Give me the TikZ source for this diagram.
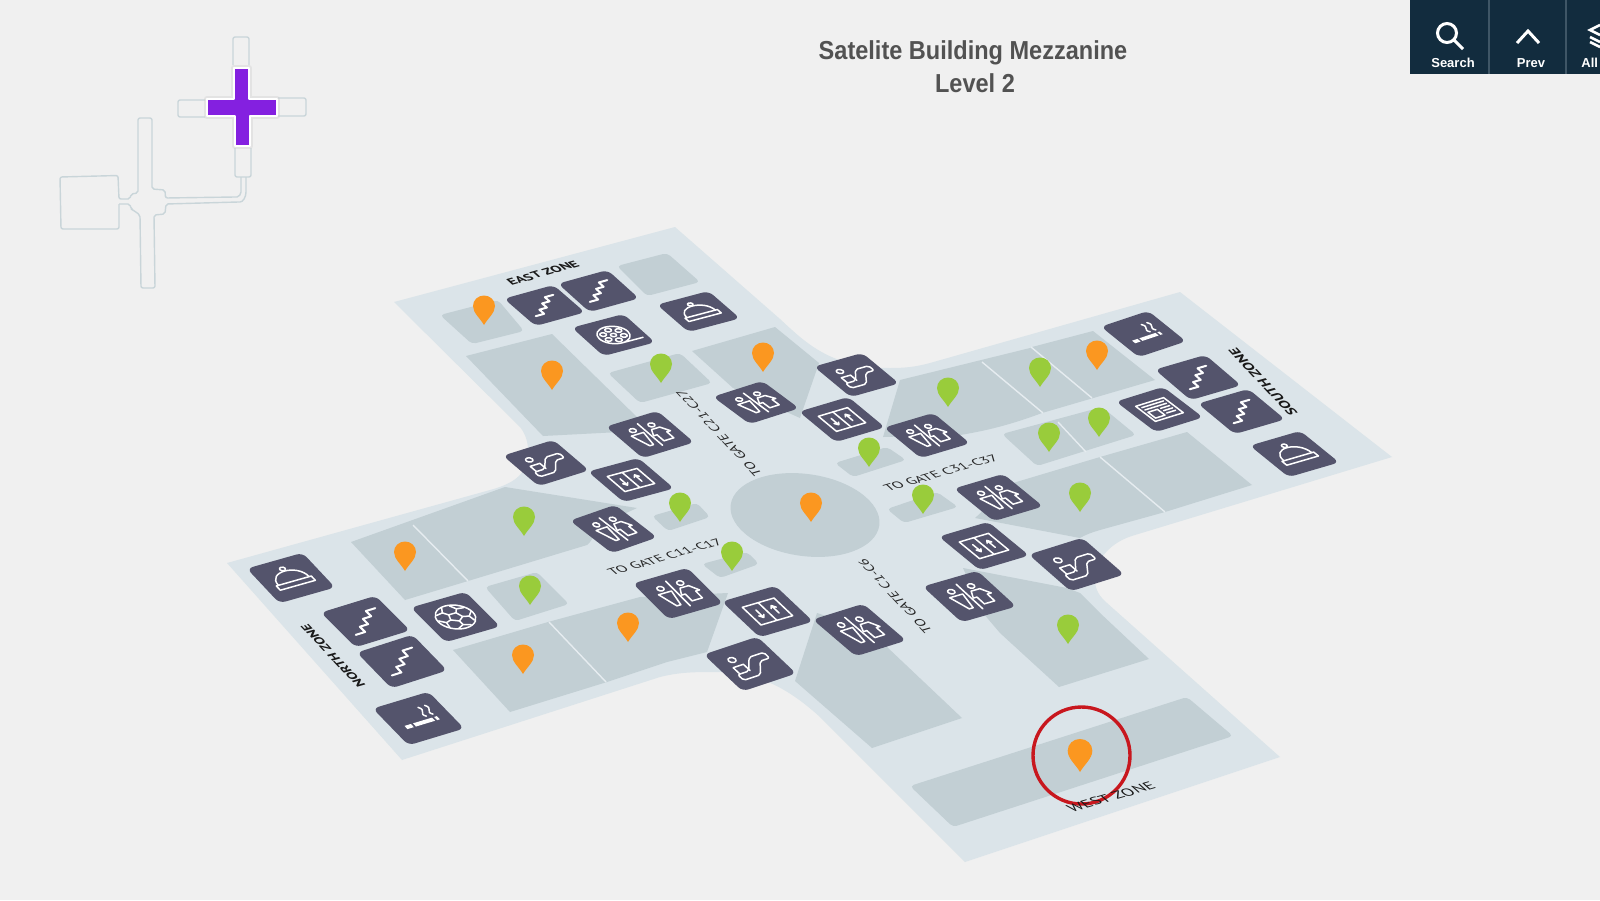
\documentclass[tikz,border=0pt]{standalone}
\usepackage{fontspec}
\setmainfont{PT Sans}
\newfontfamily\barfont{Liberation Sans}
\definecolor{pagebg}{HTML}{F0F0F0}
\definecolor{floorbg}{HTML}{DBE4E9}
\definecolor{roombg}{HTML}{C2CFD4}
\definecolor{tilebg}{HTML}{54546C}
\definecolor{pinorange}{HTML}{FB9720}
\definecolor{pingreen}{HTML}{99CC3B}
\definecolor{barbg}{HTML}{122C3E}
\definecolor{barline}{HTML}{3F5666}
\definecolor{mapline}{HTML}{C9D5D9}
\definecolor{mappurple}{HTML}{8420E0}
\definecolor{ringred}{HTML}{C8171E}
\tikzset{
    room/.style={fill=roombg},
    softroom/.style={fill=roombg,rounded corners=2pt},
    roomgap/.style={draw=floorbg!70!white,line width=0.7pt},
    tile/.style={fill=tilebg,rounded corners=3pt},
    ico/.style={draw=white,line width=0.75pt,line join=round,line cap=round},
    mapwall/.style={draw=mapline,line width=0.7pt,line join=round,rounded corners=1pt},
    alongu/.style={transform shape,cm={0.96,0.276,-0.6,0.54,(0,0)}},
    alongv/.style={transform shape,cm={-0.685,0.73,-0.78,-0.225,(0,0)}},
    floortext/.style={text=black!85,inner sep=0pt,font=\fontsize{7.6}{8}\selectfont},
    zonetext/.style={text=black!90,inner sep=0pt,font=\fontsize{7.4}{8}\bfseries\selectfont},
    bartext/.style={text=white,inner sep=0pt,font=\barfont\fontsize{6.5}{8}\bfseries\selectfont},
    titletext/.style={text=black!68,xscale=0.905,font=\barfont\fontsize{13}{16}\bfseries\selectfont},
}
%% a rectangle that follows the skewed axes of a tile
\newcommand{\skewrect}[4]{(#1,#2) -- (#3,#2) -- (#3,#4) -- (#1,#4) -- cycle}
%% icons, drawn on a tile that runs from -1 to 1 both ways
\newcommand{\drawStairs}{%
    \draw[ico,line width=1pt] (-0.68,0.48) -- ++(0.36,0) -- ++(0,-0.32) -- ++(0.32,0) -- ++(0,-0.32) -- ++(0.32,0) -- ++(0,-0.32) -- ++(0.36,0);}
\newcommand{\drawWc}{%
    \draw[ico] (0,-0.72) -- (0,0.72);
    \draw[ico] (-0.38,-0.45) circle (0.12) (0.38,-0.45) circle (0.12);
    \draw[ico] (-0.62,-0.2) -- (-0.12,-0.2) -- (-0.25,0.55) -- (-0.4,0.55) -- cycle;
    \draw[ico] (0.22,-0.22) -- (0.55,-0.22) -- (0.75,0.12) -- (0.6,0.12) -- (0.6,0.52) -- (0.2,0.52) -- (0.2,0.12) -- (0.06,0.12) -- cycle;}
\newcommand{\drawLift}{%
    \draw[ico] \skewrect{-0.62}{-0.52}{0.62}{0.52};
    \draw[ico] (0,-0.52) -- (0,0.52);
    \draw[ico] (-0.3,-0.22) -- (-0.3,0.22) (-0.4,0.08) -- (-0.3,0.22) -- (-0.2,0.08);
    \draw[ico] (0.3,0.22) -- (0.3,-0.22) (0.2,-0.08) -- (0.3,-0.22) -- (0.4,-0.08);}
\newcommand{\drawEscal}{%
    \draw[ico] (-0.4,-0.42) circle (0.13);
    \draw[ico] (-0.6,0.28) -- (-0.6,-0.08) -- (-0.2,-0.08) -- (-0.2,0.28);
    \draw[ico,rounded corners=1pt] (-0.68,0.28) -- (-0.25,0.28) -- (0.18,-0.3) -- (0.75,-0.3) -- (0.75,0.02) -- (0.38,0.02) -- (-0.02,0.6) -- (-0.68,0.6) -- cycle;}
\newcommand{\drawDome}{%
    \draw[ico] (0,-0.55) circle (0.1);
    \draw[ico] (-0.58,0.18) .. controls (-0.58,-0.62) and (0.58,-0.62) .. (0.58,0.18);
    \draw[ico] \skewrect{-0.66}{0.18}{0.66}{0.44};}
\newcommand{\drawFilm}{%
    \draw[ico] (0,0) circle (0.58) (0,0.58) -- (0.85,0.58);
    \draw[ico] (0,0) circle (0.11);
    \foreach \ang in {30,90,150,210,270,330}
        \draw[ico] (\ang:0.36) circle (0.12);}
\newcommand{\drawBall}{%
    \draw[ico] (0,0) circle (0.66);
    \draw[ico] (90:0.24) -- (162:0.24) -- (234:0.24) -- (306:0.24) -- (18:0.24) -- cycle;
    \foreach \ang in {90,162,234,306,18}
        \draw[ico] (\ang:0.24) -- (\ang:0.46) (\ang+22:0.62) -- (\ang:0.46) -- (\ang-22:0.62);}
\newcommand{\drawSmoke}{%
    \fill[white] \skewrect{-0.62}{0.14}{-0.38}{0.32};
    \fill[white] \skewrect{-0.3}{0.14}{0.42}{0.32};
    \fill[white] \skewrect{0.5}{0.14}{0.6}{0.32};
    \draw[ico] (0.3,0) .. controls (0.1,-0.2) and (0.5,-0.25) .. (0.3,-0.5);
    \draw[ico] (0.55,0) .. controls (0.35,-0.2) and (0.75,-0.25) .. (0.55,-0.5);}
\newcommand{\drawNews}{%
    \draw[ico] \skewrect{-0.62}{-0.52}{0.62}{0.52};
    \draw[ico] (-0.48,-0.36) -- (0.48,-0.36) (-0.48,-0.2) -- (0.48,-0.2);
    \draw[ico] \skewrect{-0.48}{-0.04}{-0.06}{0.36};
    \draw[ico] (0.08,-0.04) -- (0.48,-0.04) (0.08,0.12) -- (0.48,0.12) (0.08,0.28) -- (0.48,0.28);}
\newcommand{\pinpath}{(0,0) .. controls (-4,-7) and (-11,-12) .. (-11,-19) .. controls (-11,-25) and (-6,-29.5) .. (0,-29.5) .. controls (6,-29.5) and (11,-25) .. (11,-19) .. controls (11,-12) and (4,-7) .. (0,0) -- cycle}
\begin{document}
\begin{tikzpicture}[x=0.5pt,y=-0.5pt]
    \clip (0,0) rectangle (1600,900);
    \fill[pagebg] (0,0) rectangle (1600,900);
    %% floor
    \fill[floorbg] (394,302) -- (675,227) -- (780,319) .. controls (805,342) and (830,368) .. (890,368)
        .. controls (905,368) and (915,367) .. (930,363) -- (1180,292) -- (1392,457) -- (1135,535)
        .. controls (1110,542) and (1095,560) .. (1095,580) .. controls (1095,590) and (1100,597) .. (1107,603)
        -- (1280,757) -- (965,862) -- (820,717) .. controls (790,690) and (760,672) .. (717,672)
        .. controls (695,672) and (680,672) .. (660,677) -- (402,760) -- (227,563) -- (490,490)
        .. controls (520,482) and (528,470) .. (528,450) .. controls (528,440) and (524,432) .. (520,427) -- cycle;
    %% rooms of the east arm
    \fill[softroom] (440,315) -- (498,300) -- (524,331) -- (472,344) -- cycle;
    \fill[softroom] (617,266) -- (667,253) -- (700,282) -- (647,296) -- cycle;
    \fill[room] (466,356) -- (552,334) -- (640,420) -- (620,432) -- (543,436) -- cycle;
    \fill[softroom] (608,373) -- (680,353) -- (712,383) -- (640,403) -- cycle;
    \fill[room] (692,351) -- (775,327) -- (819,363) -- (800,418) -- (760,400) -- (733,388) -- cycle;
    %% rooms of the south arm
    \fill[room] (900,380) -- (1030,348) -- (1032,347) -- (1093,331) -- (1155,380) -- (1042,413)
        .. controls (1010,425) and (985,431) .. (960,435) -- (883,437) -- cycle;
    \draw[roomgap] (982,362) -- (1043,413) (1031,347) -- (1092,398);
    \fill[softroom] (1002,434) -- (1102,407) -- (1136,435) -- (1037,466) -- cycle;
    \draw[roomgap] (1058,422) -- (1086,452);
    \fill[room] (975,518) .. controls (990,505) and (1000,488) .. (1013,483) -- (1100,457) -- (1187,432)
        -- (1252,485) -- (1165,512) -- (1100,530) .. controls (1090,533) and (1085,535) .. (1080,538) -- cycle;
    \draw[roomgap] (1100,457) -- (1165,512);
    \fill[softroom] (835,463) -- (887,447) -- (906,460) -- (853,477) -- cycle;
    \fill[softroom] (887,509) -- (937,492) -- (958,507) -- (904,523) -- cycle;
    %% rooms of the north arm
    \fill[room] (351,542) -- (505,487) -- (637,508) -- (600,525) .. controls (595,535) and (590,543) .. (587,545)
        -- (468,581) -- (405,600) -- cycle;
    \draw[roomgap] (413,525) -- (468,581);
    \fill[softroom] (485,587) -- (537,572) -- (569,604) -- (515,621) -- cycle;
    \fill[room] (453,650) -- (548,622) -- (640,597) -- (728,593) -- (707,652) -- (667,662) -- (607,682) -- (510,712) -- cycle;
    \draw[roomgap] (549,622) -- (606,682);
    \fill[softroom] (702,564) -- (747,552) -- (759,564) -- (720,578) -- cycle;
    \fill[softroom] (652,516) -- (697,503) -- (710,517) -- (668,531) -- cycle;
    %% rooms of the west arm
    \fill[room] (817,613) -- (870,630) -- (887,647) -- (962,718) -- (872,748) -- (795,681) -- cycle;
    \fill[room] (963,568) -- (1067,588) -- (1080,593) -- (1100,613) -- (1149,659) -- (1059,687) -- (1000,633) -- (983,613) -- cycle;
    \fill[softroom] (910,786) -- (1187,697) -- (1233,736) -- (953,827) -- cycle;
    %% round hall
    \fill[room,rotate around={-8:(805,515)}] (805,515) ellipse (75 and 41);
    %% labels on the floor
    \foreach \nm/\px/\py/\txt in {gateA/665/557/TO GATE C11-C17,gateB/941/473/TO GATE C31-C37}
        \node (\nm) [floortext,alongu] at (\px,\py) {\txt};
    \foreach \nm/\px/\py/\txt in {gateC/719/433/TO GATE C21-C27,gateD/895/596/TO GATE C1-C6}
        \node (\nm) [floortext,alongv] at (\px,\py) {\txt};
    \node (zoneEast) [zonetext,alongu] at (543,273) {EAST ZONE};
    \node (zoneNorth) [zonetext,alongv] at (333,656) {NORTH ZONE};
    \node (zoneSouth) [zonetext,alongv,font=\fontsize{8}{9}\bfseries\selectfont] at (1263,382) {SOUTH ZONE};
    %% tiles: kind, then left, top and right corner
    \foreach \kind/\lx/\ly/\tx/\ty/\rx/\ry in {
        Stairs/506/299/553/286/583/312,Stairs/560/284/607/271/637/298,
        Stairs/1157/370/1205/356/1239/385,Stairs/1200/404/1248/390/1283/419,
        Stairs/323/613/375/597/408/630,Stairs/359/653/412/636/445/670,
        Dome/659/305/708/292/738/318,Dome/1252/446/1300/432/1337/462,Dome/249/569/302/554/333/587,
        Film/574/328/623/315/653/342,Ball/413/608/465/593/498/626,News/1118/402/1163/388/1201/417,
        Smoke/1103/327/1148/312/1184/341,Smoke/375/709/428/693/462/728,
        Wc/715/397/762/382/797/408,Wc/608/427/657/412/692/442,Wc/886/428/933/414/968/443,
        Wc/956/489/1003/475/1041/506,Wc/925/587/977/572/1014/606,Wc/572/521/615/506/655/537,
        Wc/635/584/687/569/721/603,Wc/815/620/863/605/904/640,
        Lift/590/472/638/459/672/488,Lift/801/412/848/398/883/427,
        Lift/941/537/988/523/1027/555,Lift/724/602/775/587/811/621,
        Escal/505/456/553/441/587/470,Escal/816/367/862/354/897/383,
        Escal/1031/555/1082/539/1122/574,Escal/706/655/757/638/794/673}{
        \pgfmathsetmacro\ux{(\tx-\lx)/4}
        \pgfmathsetmacro\uy{-(\ty-\ly)/4}
        \pgfmathsetmacro\vx{(\rx-\tx)/4}
        \pgfmathsetmacro\vy{-(\ry-\ty)/4}
        \pgfmathsetmacro\cx{(\lx+\rx)/2}
        \pgfmathsetmacro\cy{(\ly+\ry)/2}
        \begin{scope}[shift={(\cx,\cy)},x={(\ux pt,\uy pt)},y={(\vx pt,\vy pt)}]
            \fill[tile] \skewrect{-1.05}{-1.05}{1.05}{1.05};
            \csname draw\kind\endcsname
        \end{scope}
    }
    %% pins
    \foreach \px/\py in {484/325,552/390,763/372,1097/370,811/522,405/571,628/642,523/674}
        \fill[pinorange,shift={(\px,\py)}] \pinpath;
    \foreach \px/\py in {661/383,948/407,1040/387,1049/452,1099/437,869/467,923/514,1080/512,524/536,530/605,680/522,732/571,1068/644}
        \fill[pingreen,shift={(\px,\py)}] \pinpath;
    \fill[pinorange,shift={(1080,772)},scale=1.12] \pinpath;
    \draw[ringred,line width=1.7pt] (1081.5,755.5) circle (48.5);
    \node (zoneWest) [zonetext,alongu,font=\fontsize{8.6}{9}\selectfont] at (1111,797) {WEST ZONE};
    %% small map
    \draw[mapwall] (119,204) -- (119,229) -- (61,229) -- (60,177) -- (118,175.5) -- (119,199) -- (130,199) -- (131,194) -- (138,193) -- (138,118) -- (152,118) -- (152,189) -- (165,190) -- (165.5,198)
        -- (235,197) .. controls (239,197) and (241,194) .. (241,190) -- (241,177);
    \draw[mapwall] (246,177) -- (246,190) .. controls (246,197) and (243,202) .. (238,202)
        -- (166,204) -- (165,214) -- (154,215) -- (155,288) -- (141,288) -- (140,215) -- (133,210) -- (131,209) -- (130,204) -- (119,204);
    \draw[mapwall] (233,65) -- (233,37) -- (249,37) -- (249,65);
    \draw[mapwall] (205,100) -- (178,100) -- (178,117) -- (205,117);
    \draw[mapwall] (278,98) -- (306,98) -- (306,116) -- (278,116);
    \draw[mapwall] (235,148) -- (235,177) -- (251,177) -- (251,148);
    \def\crosspath{(234,68) -- (249,68) -- (249,99) -- (277,99) -- (277,116) -- (250,116) -- (250,146) -- (235,146) -- (235,116) -- (207,116) -- (207,99) -- (234,99) -- cycle}
    \draw[black!20,line width=3pt,opacity=0.35,line join=round] \crosspath;
    \draw[fill=mappurple,draw=white,line width=1.1pt,line join=round] \crosspath;
    %% title
    \node (titleA) [titletext] at (973,53) {Satelite Building Mezzanine};
    \node (titleB) [titletext] at (975,83) {Level 2};
    %% tool bar
    \fill[barbg] (1410,0) rectangle (1600,74);
    \draw[barline,line width=0.6pt] (1489,0) -- (1489,74) (1566,0) -- (1566,74);
    \node (barSearch) [bartext] at (1453,63) {Search};
    \node (barPrev) [bartext] at (1531,63) {Prev};
    \node (barAll) [bartext,anchor=west] at (1581,63) {All};
    \draw[white,line width=1.5pt] (1447,33) circle (9.5) (1454,40) -- (1463,49);
    \draw[white,line width=1.5pt] (1517,43) -- (1528,31) -- (1539,43);
    \draw[white,line width=1.3pt] (1600,25) -- (1590,30) -- (1600,35) (1590,37) -- (1600,42) (1590,42) -- (1600,47);
\end{tikzpicture}
\end{document}
